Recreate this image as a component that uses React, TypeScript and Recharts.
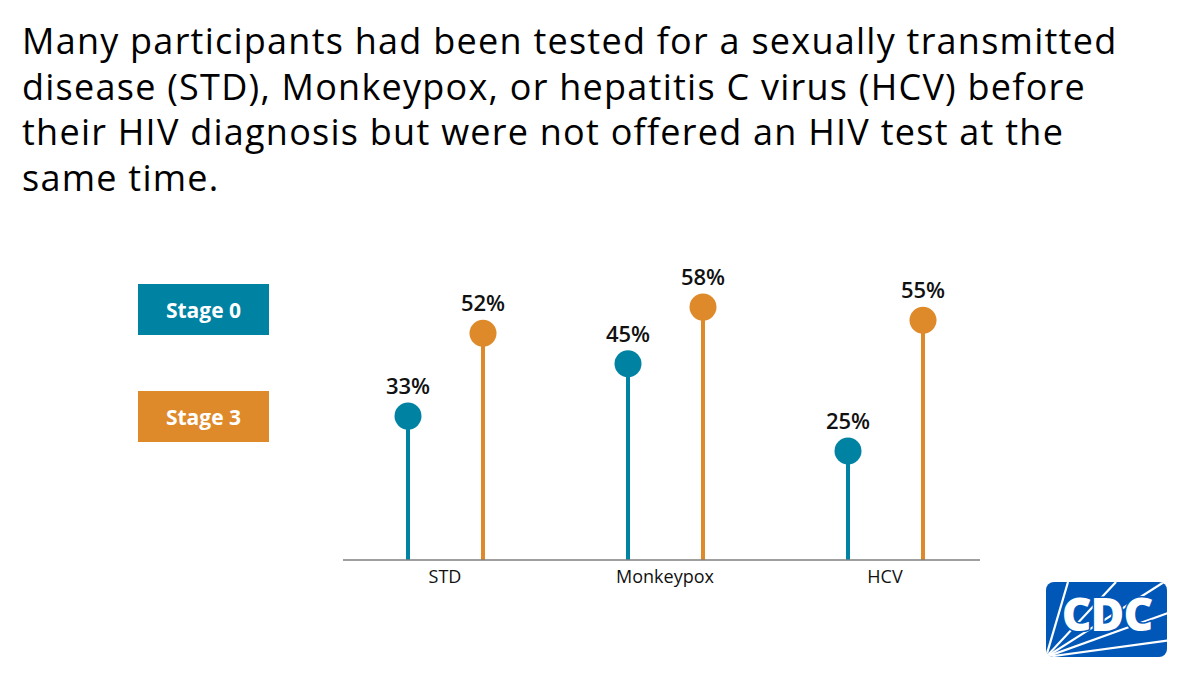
import { BarChart, Bar, XAxis, YAxis, Legend, LabelList } from 'recharts';

// Share of participants tested for each infection before HIV diagnosis
const categories = ['STD', 'Monkeypox', 'HCV'];
const stage0 = [33, 45, 25];
const stage3 = [52, 58, 55];

const seriesNames = ['Stage 0', 'Stage 3'];
const TEAL = '#0083a3';
const ORANGE = '#df8a2a';
const FONT = '"Open Sans", "Noto Sans", sans-serif';

const data = categories.map((name, i) => ({
  name,
  stage0: stage0[i],
  stage3: stage3[i],
}));

const titleLines = [
  'Many participants had been tested for a sexually transmitted',
  'disease (STD), Monkeypox, or hepatitis C virus (HCV) before',
  'their HIV diagnosis but were not offered an HIV test at the',
  'same time.',
];

// stem + dot drawn inside the bar slot
const Lollipop = (props: any) => {
  const { x, y, width, height, fill } = props;
  const cx = x + width / 2;
  return (
    <g>
      <line x1={cx} y1={y} x2={cx} y2={y + height} stroke={fill} strokeWidth={4} />
      <circle cx={cx} cy={y} r={13.5} fill={fill} />
    </g>
  );
};

const ValueLabel = (props: any) => {
  const { x, y, width, value } = props;
  return (
    <text
      x={x + width / 2}
      y={y - 22}
      textAnchor="middle"
      fontSize={22}
      fontWeight={600}
      fill="#111"
      fontFamily={FONT}
    >
      {value}%
    </text>
  );
};

const StageLegend = (props: any) => {
  const { payload = [] } = props;
  return (
    <div style={{ display: 'flex', flexDirection: 'column', gap: 56 }}>
      {payload.map((p: any) => (
        <div
          key={p.value}
          style={{
            width: 131,
            height: 51,
            background: p.color,
            color: '#fff',
            fontFamily: FONT,
            fontWeight: 700,
            fontSize: 21,
            display: 'flex',
            alignItems: 'center',
            justifyContent: 'center',
          }}
        >
          {p.value}
        </div>
      ))}
    </div>
  );
};

const CdcLogo = () => (
  <svg width={122} height={76} viewBox="0 0 122 76" style={{ position: 'absolute', left: 1046, top: 582 }}>
    <defs>
      <clipPath id="cdcClip">
        <rect x={0} y={0} width={121} height={75} rx={8} />
      </clipPath>
    </defs>
    <rect x={0} y={0} width={121} height={75} rx={8} fill="#0057b7" />
    <g clipPath="url(#cdcClip)" stroke="#fff" strokeWidth={2.2}>
      <line x1={0} y1={75} x2={22} y2={0} />
      <line x1={0} y1={75} x2={70} y2={0} />
      <line x1={0} y1={75} x2={118} y2={0} />
      <line x1={0} y1={75} x2={125} y2={30} />
      <line x1={0} y1={75} x2={125} y2={58} />
    </g>
    <text
      x={61}
      y={49}
      textAnchor="middle"
      fontFamily={FONT}
      fontWeight={800}
      fontSize={46}
      letterSpacing={-1}
      fill="#fff"
      stroke="#0057b7"
      strokeWidth={3}
      paintOrder="stroke"
    >
      CDC
    </text>
  </svg>
);

export default function App() {
  return (
    <div
      style={{
        position: 'absolute',
        left: 0,
        top: 0,
        width: 1200,
        height: 675,
        background: '#fff',
        overflow: 'hidden',
      }}
    >
      <div
        style={{
          position: 'absolute',
          left: 22,
          top: 18,
          fontFamily: FONT,
          fontSize: 36,
          letterSpacing: 1.25,
          lineHeight: '45.5px',
          color: '#000',
          whiteSpace: 'nowrap',
        }}
      >
        {titleLines.map((line) => (
          <div key={line}>{line}</div>
        ))}
      </div>

      <div style={{ position: 'absolute', left: 0, top: 0 }}>
        <BarChart
          width={1200}
          height={675}
          data={data}
          margin={{ top: 124, right: 220, bottom: 85, left: 343 }}
          barSize={30}
          barGap={45}
        >
          <XAxis
            dataKey="name"
            height={30}
            padding={{ left: -8, right: -15 }}
            axisLine={{ stroke: '#7f7f7f', strokeWidth: 1.5 }}
            tickLine={false}
            tickMargin={4}
            tick={{ fontSize: 18, fill: '#111', fontFamily: FONT }}
          />
          <YAxis hide domain={[0, 100]} />
          <Legend
            layout="horizontal"
            verticalAlign="middle"
            align="center"
            content={<StageLegend />}
            wrapperStyle={{ left: 138, top: 284, width: 131 }}
          />
          <Bar dataKey="stage0" name={seriesNames[0]} fill={TEAL} shape={<Lollipop />} isAnimationActive={false}>
            <LabelList dataKey="stage0" content={<ValueLabel />} />
          </Bar>
          <Bar dataKey="stage3" name={seriesNames[1]} fill={ORANGE} shape={<Lollipop />} isAnimationActive={false}>
            <LabelList dataKey="stage3" content={<ValueLabel />} />
          </Bar>
        </BarChart>
      </div>

      <CdcLogo />
    </div>
  );
}
